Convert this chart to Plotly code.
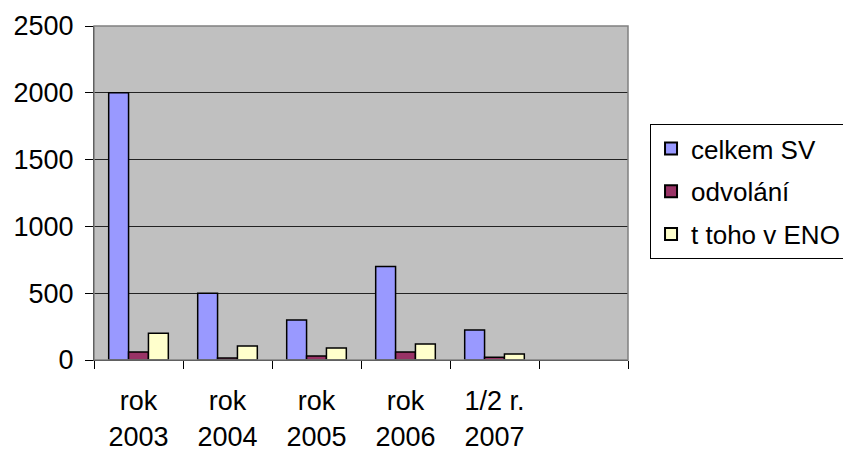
import plotly.graph_objects as go

categories = ["rok<br>2003", "rok<br>2004", "rok<br>2005", "rok<br>2006", "1/2 r.<br>2007"]
celkem_sv = [2000, 500, 300, 700, 225]
odvolani = [60, 15, 30, 60, 20]
t_toho_v_eno = [200, 105, 90, 120, 45]

series = [
    ("celkem SV", celkem_sv, "#9999FF"),
    ("odvolání", odvolani, "#993366"),
    ("t toho v ENO", t_toho_v_eno, "#FFFFCC"),
]

xpos = list(range(len(categories)))

fig = go.Figure()
for name, vals, color in series:
    fig.add_trace(go.Bar(
        x=xpos, y=vals, name=name, legendgroup=name,
        marker=dict(color=color, line=dict(color="black", width=1.5)),
    ))

fig.update_layout(
    width=843, height=442,
    margin=dict(l=86, r=223, t=18, b=90),
    paper_bgcolor="white",
    plot_bgcolor="#C0C0C0",
    barmode="group",
    bargap=0.33,
    bargroupgap=0,
    font=dict(family="Liberation Sans, Arial, sans-serif", size=27, color="black"),
    showlegend=True,
    legend=dict(
        xref="container", yref="container",
        x=0.7616, y=0.7376, xanchor="left", yanchor="top",
        bgcolor="white", bordercolor="black", borderwidth=1,
        font=dict(size=26),
        tracegroupgap=6,
        itemsizing="constant",
    ),
    xaxis=dict(
        range=[-0.5, 5.5],
        tickmode="array", tickvals=xpos, ticktext=categories,
        ticks="", showgrid=False, zeroline=False,
        showline=True, linecolor="black", linewidth=1,
        ticklabelstandoff=17, automargin=False,
        minor=dict(ticks="outside", ticklen=8, tickcolor="black",
                   tick0=0.5, dtick=1, showgrid=False),
    ),
    yaxis=dict(
        range=[0, 2500], dtick=500, tick0=0,
        ticks="outside", ticklen=8, tickcolor="black",
        showgrid=True, gridcolor="#222222", gridwidth=1,
        zeroline=False, automargin=False,
        showline=True, linecolor="black", linewidth=1,
        ticklabelstandoff=6,
    ),
    shapes=[dict(type="rect", xref="paper", yref="paper", x0=0, x1=1, y0=0, y1=1,
                 line=dict(color="#808080", width=1.5), layer="above")],
)

fig.write_html("out.html")
